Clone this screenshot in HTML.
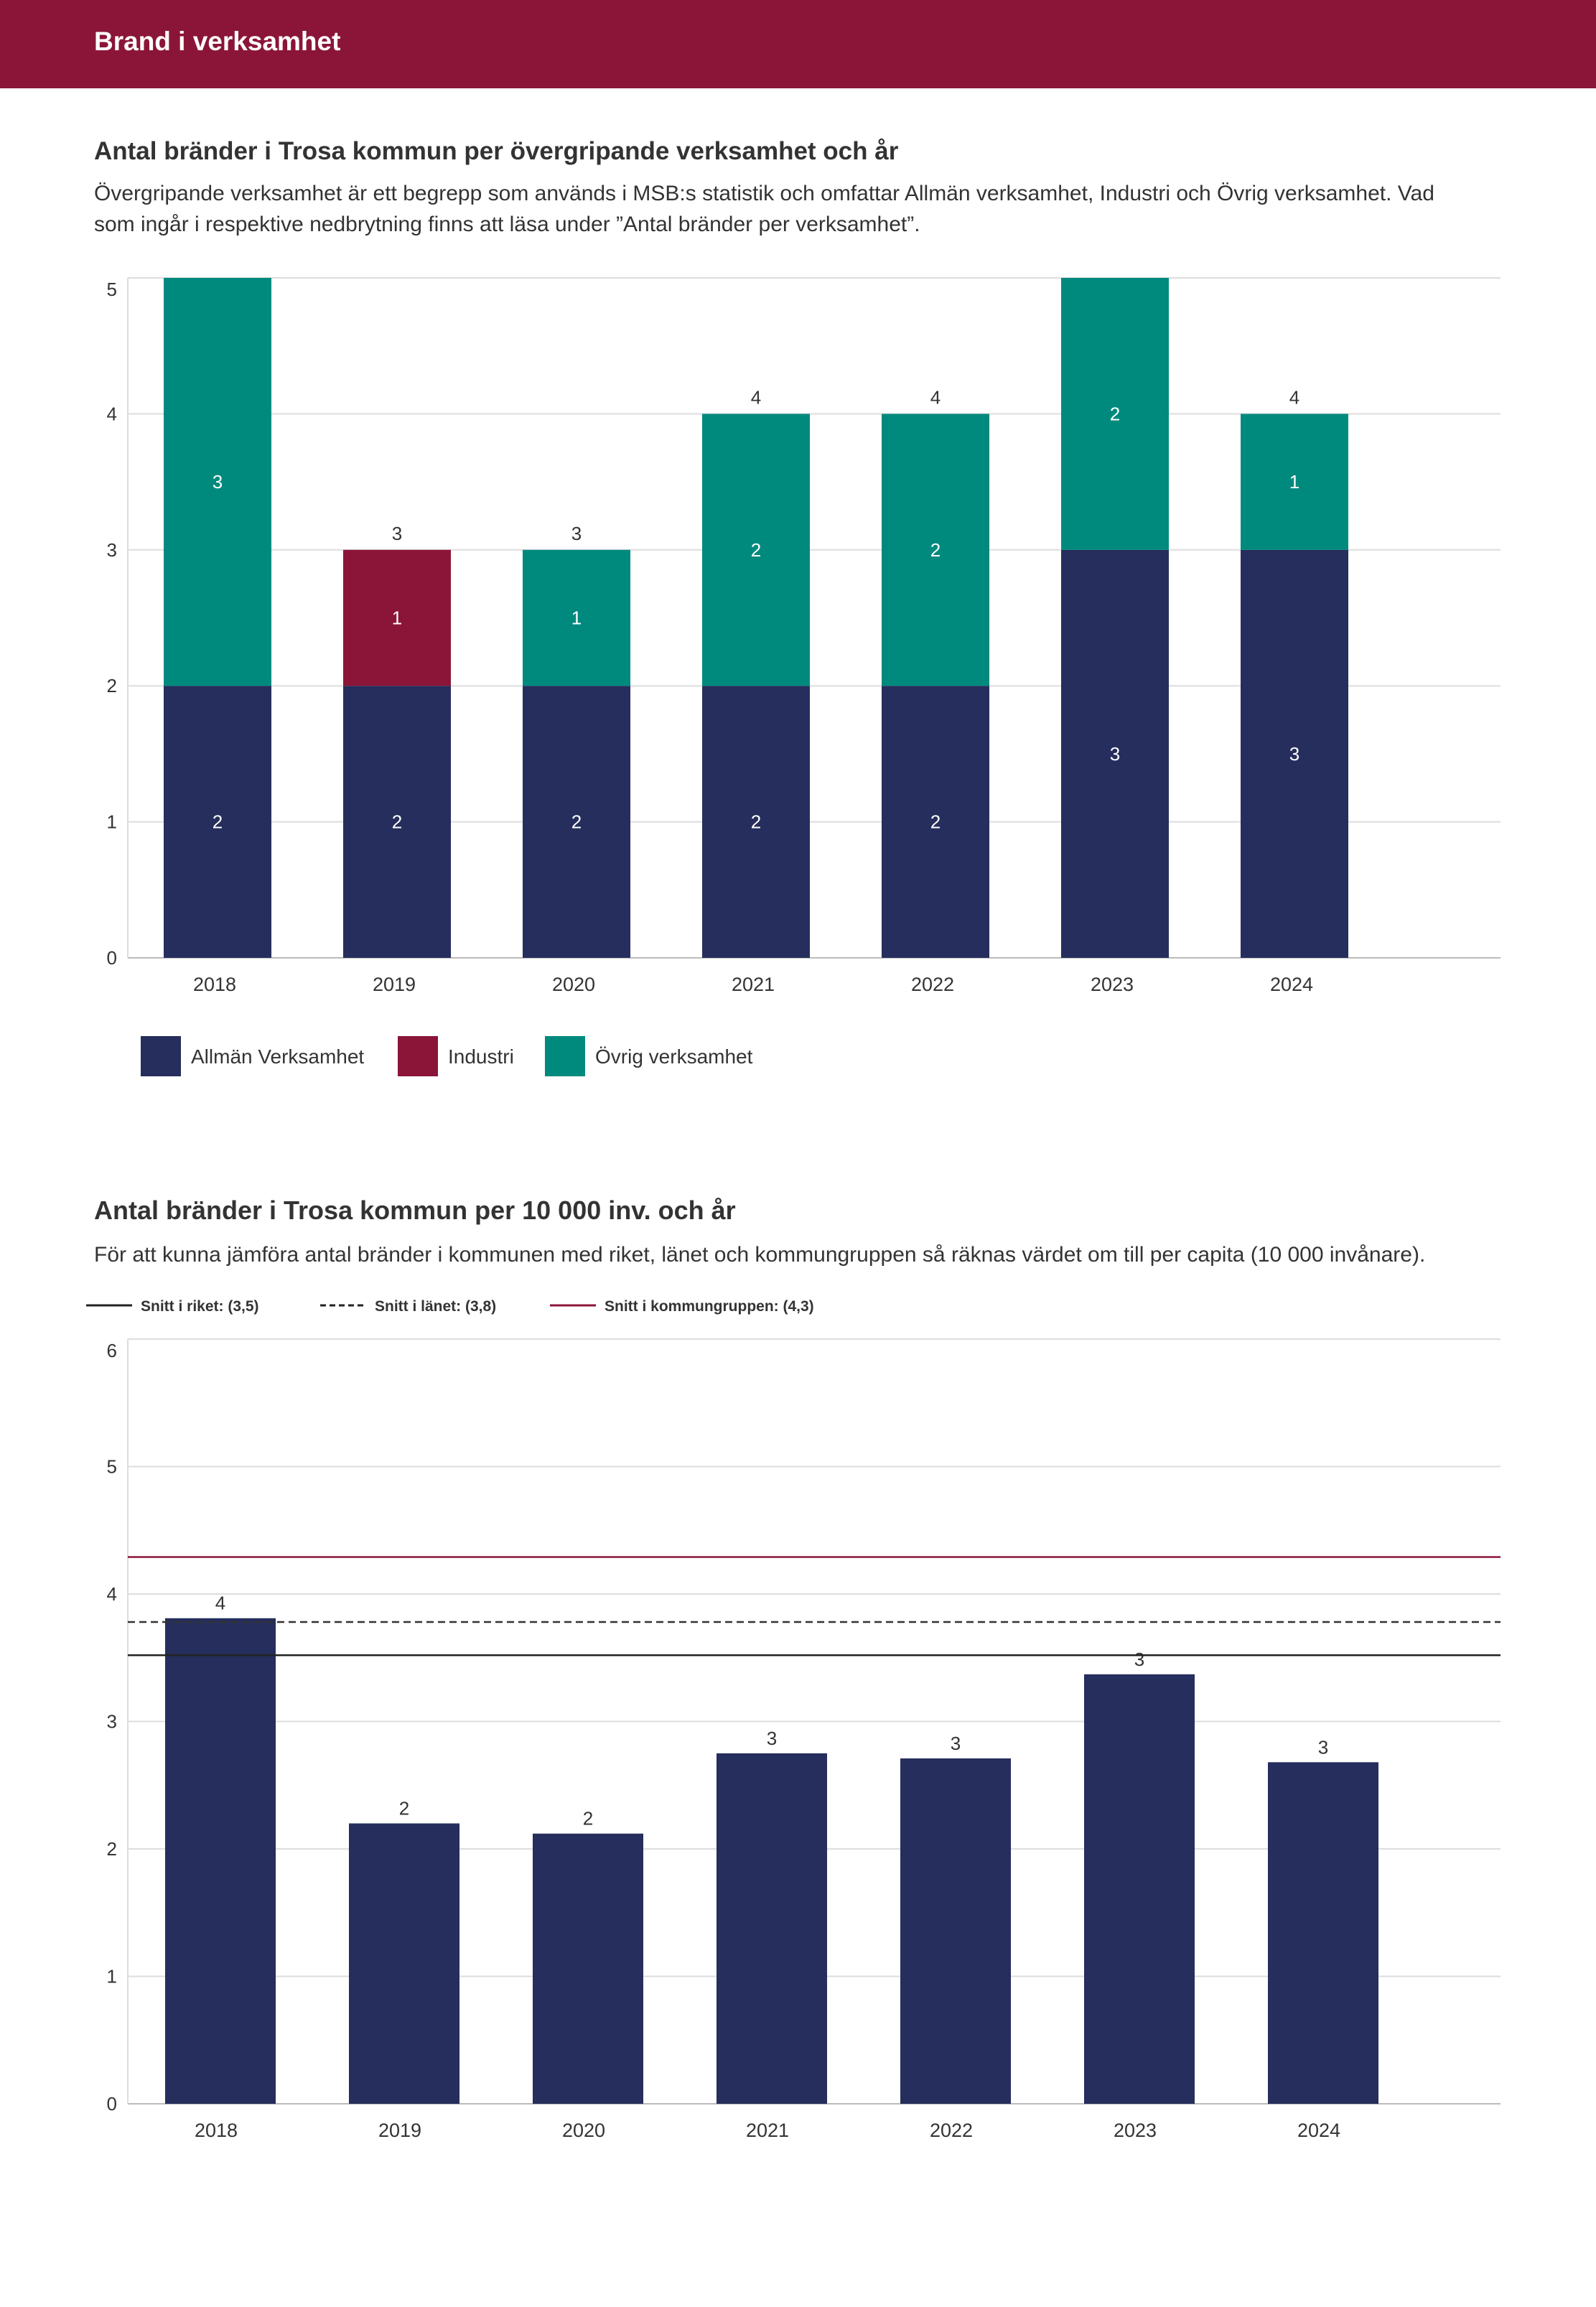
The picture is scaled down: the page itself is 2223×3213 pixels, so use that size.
<!DOCTYPE html>
<html><head><meta charset="utf-8">
<style>
body{margin:0;width:2223px;height:3213px;background:#fff;font-family:"Liberation Sans",sans-serif;overflow:hidden}
svg{position:absolute;left:0;top:0}
text{font-family:"Liberation Sans",sans-serif}
</style></head>
<body>
<svg id="s" width="2223" height="3213">
<rect x="0" y="0" width="2223" height="123" fill="#8b1538"/>
<text x="131" y="70" font-size="37" font-weight="bold" fill="#fff">Brand i verksamhet</text>
<text x="131" y="222" font-size="35" font-weight="bold" fill="#333">Antal bränder i Trosa kommun per övergripande verksamhet och år</text>
<text x="131" y="279" font-size="30" fill="#333">Övergripande verksamhet är ett begrepp som används i MSB:s statistik och omfattar Allmän verksamhet, Industri och Övrig verksamhet. Vad</text>
<text x="131" y="322" font-size="30" fill="#333">som ingår i respektive nedbrytning finns att läsa under ”Antal bränder per verksamhet”.</text>
<text x="131" y="1698" font-size="36" font-weight="bold" fill="#333">Antal bränder i Trosa kommun per 10 000 inv. och år</text>
<text x="131" y="1757" font-size="30" fill="#333">För att kunna jämföra antal bränder i kommunen med riket, länet och kommungruppen så räknas värdet om till per capita (10 000 invånare).</text>
<g id="c1"></g>
<g id="c2"></g>
</svg>
<script>
const years=["2018","2019","2020","2021","2022","2023","2024"];
const allman=[2,2,2,2,2,3,3];
const industri=[0,1,0,0,0,0,0];
const ovrig=[3,0,1,2,2,2,1];
const ticks1=[0,1,2,3,4,5];
const perCapita=[3.81,2.20,2.12,2.75,2.71,3.37,2.68];
const perCapitaLabels=["4","2","2","3","3","3","3"];
const ticks2=[0,1,2,3,4,5,6];
const riket=3.52, lanet=3.78, grupp=4.29;
const NS="http://www.w3.org/2000/svg";
function mk(p,tag,a,txt){const e=document.createElementNS(NS,tag);for(const k in a)e.setAttribute(k,a[k]);if(txt!=null)e.textContent=txt;p.appendChild(e);return e;}
// chart 1
const c1=document.getElementById('c1');
const L=178,R=2090,y1=v=>1334-v*(1334-387)/5,x1=i=>303+i*250,bw1=150;
ticks1.forEach((t,k)=>{const l=mk(c1,'line',{x1:L,x2:R,y1:y1(t),y2:y1(t),stroke:t?'#ddd':'#bbb','stroke-width':2});

const off=k===ticks1.length-1?25:9;
const tx=mk(c1,'text',{x:163,y:y1(t)+off,'font-size':26,fill:'#333','text-anchor':'end'},t);
});
mk(c1,'line',{x1:L,x2:L,y1:387,y2:1334,stroke:'#ddd','stroke-width':2});
const cols=['#252e5c','#8b1538','#008a7e'];
years.forEach((yr,i)=>{let base=0;[allman,industri,ovrig].forEach((s,k)=>{const v=s[i];if(!v)return;
const r=mk(c1,'rect',{x:x1(i)-bw1/2,y:y1(base+v),width:bw1,height:y1(base)-y1(base+v),fill:cols[k]});

const t=mk(c1,'text',{x:x1(i),y:(y1(base)+y1(base+v))/2+9,'font-size':26,fill:'#fff','text-anchor':'middle'},v);

base+=v;});
if(base<5){const t=mk(c1,'text',{x:x1(i),y:y1(base)-14,'font-size':26,fill:'#333','text-anchor':'middle'},base);
}
const t=mk(c1,'text',{x:x1(i)-4,y:1380,'font-size':27,fill:'#333','text-anchor':'middle'},yr);
});
[['Allmän Verksamhet',196],['Industri',554],['Övrig verksamhet',759]].forEach((e,k)=>{
const r=mk(c1,'rect',{x:e[1],y:1443,width:56,height:56,fill:cols[k]});

const t=mk(c1,'text',{x:e[1]+70,y:1481,'font-size':28,fill:'#333'},e[0]);
});
// chart 2
const c2=document.getElementById('c2');
const y2=v=>2930-v*(2930-1865)/6,x2=i=>307+i*256,bw2=154;
ticks2.forEach((t,k)=>{const l=mk(c2,'line',{x1:L,x2:R,y1:y2(t),y2:y2(t),stroke:t?'#ddd':'#bbb','stroke-width':2});

const off=k===ticks2.length-1?25:9;
const tx=mk(c2,'text',{x:163,y:y2(t)+off,'font-size':26,fill:'#333','text-anchor':'end'},t);
});
mk(c2,'line',{x1:L,x2:L,y1:1865,y2:2930,stroke:'#ddd','stroke-width':2});
years.forEach((yr,i)=>{const v=perCapita[i];
const r=mk(c2,'rect',{x:x2(i)-bw2/2,y:y2(v),width:bw2,height:y2(0)-y2(v),fill:'#252e5c'});

const t=mk(c2,'text',{x:x2(i),y:y2(v)-12,'font-size':26,fill:'#333','text-anchor':'middle'},perCapitaLabels[i]);

const tx=mk(c2,'text',{x:x2(i)-6,y:2976,'font-size':27,fill:'#333','text-anchor':'middle'},yr);
});
[[grupp,'#8b1538',''],[lanet,'#333','10,6'],[riket,'#222','']].forEach(a=>{
const l=mk(c2,'line',{x1:L,x2:R,y1:y2(a[0]),y2:y2(a[0]),stroke:a[1],'stroke-width':2.5,'stroke-dasharray':a[2]});
});
[['Snitt i riket: (3,5)',120,'#222',''],['Snitt i länet: (3,8)',446,'#222','8,5'],['Snitt i kommungruppen: (4,3)',766,'#8b1538','']].forEach(e=>{
const l=mk(c2,'line',{x1:e[1],x2:e[1]+64,y1:1818,y2:1818,stroke:e[2],'stroke-width':3,'stroke-dasharray':e[3]});

const t=mk(c2,'text',{x:e[1]+76,y:1826,'font-size':21,'font-weight':'bold',fill:'#333'},e[0]);
});
</script>
</body></html>
